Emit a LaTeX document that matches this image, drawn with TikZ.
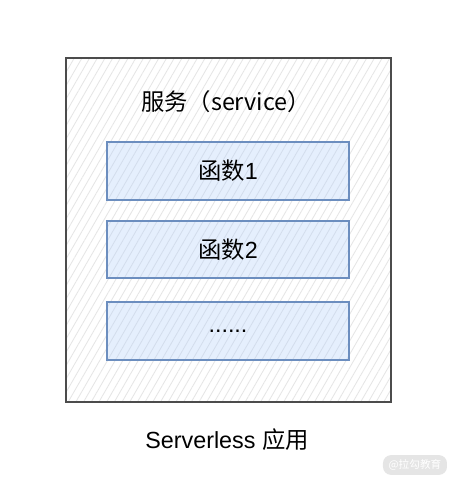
\documentclass[tikz,border=0pt]{standalone}
\usepackage{fontspec}
\setmainfont{Liberation Sans}
\newfontfamily\cjk{Noto Sans CJK SC}
\usetikzlibrary{patterns.meta}
\definecolor{funcline}{HTML}{6C8EBF}
\definecolor{funcfill}{HTML}{DAE8FC}
\tikzset{
	hatch/.style={pattern={Lines[angle=60,distance=5pt,line width=0.6pt]}, pattern color=#1},
	appbox/.style={draw=black!70, line width=1.5pt, hatch=black!10, preaction={fill=white},
		minimum width=243.75pt, minimum height=258pt, inner sep=0pt},
	funcbox/.style={draw=funcline, line width=1.3pt, hatch=funcline!30, preaction={fill=funcfill!70},
		minimum width=181.5pt, minimum height=43pt, inner sep=0pt},
	label/.style={font=\fontsize{17.5}{20}\selectfont}
}

\begin{document}
\begin{tikzpicture}[x=0.75pt,y=-0.75pt]
\useasboundingbox (0,0) rectangle (454,480);
% outer box: the application
\node[appbox] (app) at (228.5,230) {};
\node[label] (svc) at (226,102) {\cjk 服务（service）};
% functions
\node[funcbox] (f1) at (228,171) {};
\node[funcbox] (f2) at (228,249.5) {};
\node[funcbox] (f3) at (228,331) {};
\node[label] at (f1) {\cjk 函数\rmfamily 1};
\node[label] at (f2) {\cjk 函数\rmfamily 2};
\node[label] at (f3) {......};
% caption
\node[label] (cap) at (227,440) {Serverless {\cjk 应用}};
% watermark
\node[fill=black!10, rounded corners=6pt, text=white, font=\cjk\fontsize{8}{9}\selectfont,
	minimum width=48pt, minimum height=13pt] (mark) at (415,465) {@拉勾教育};
\end{tikzpicture}
\end{document}
